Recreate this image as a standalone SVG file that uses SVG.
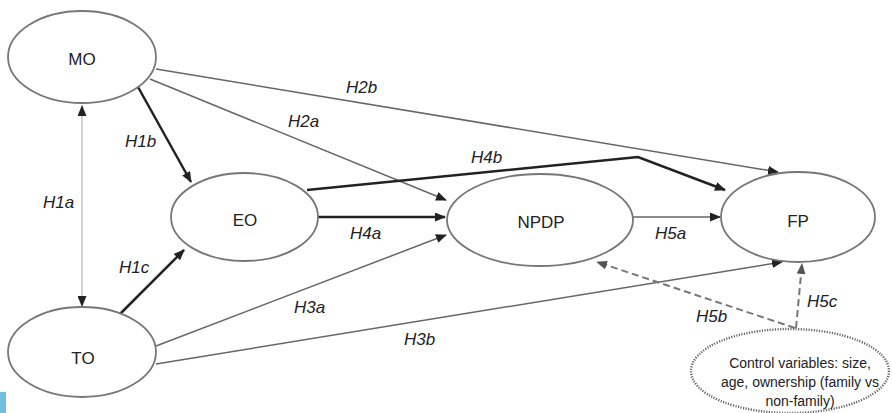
<svg xmlns="http://www.w3.org/2000/svg" width="892" height="413" viewBox="0 0 892 413">
<style>
.node ellipse{fill:#fff;stroke:#777;stroke-width:1.8}
.node text{font-family:"Liberation Sans",Arial,sans-serif;font-size:17px;fill:#222;text-anchor:middle}
.ctrl ellipse{fill:#fff;stroke:#666;stroke-width:2.4;stroke-dasharray:1.2 1.4}
.ctrl text{font-family:"Liberation Sans",Arial,sans-serif;font-size:14px;fill:#222;text-anchor:middle}
.edge{fill:none;stroke:#666;stroke-width:1.5}
.thick{fill:none;stroke:#222;stroke-width:2.5}
.light{fill:none;stroke:#aaa;stroke-width:1}
.dash{fill:none;stroke:#777;stroke-width:2;stroke-dasharray:7 4}
.lbl{font-family:"Liberation Sans",Arial,sans-serif;font-size:17px;font-style:italic;fill:#222}
</style>
<defs>
<marker id="ah" markerUnits="userSpaceOnUse" markerWidth="11" markerHeight="9" refX="10" refY="4.5" orient="auto-start-reverse">
<path d="M0,0 L11,4.5 L0,9 z" fill="#222"/>
</marker>
<marker id="ahg" markerUnits="userSpaceOnUse" markerWidth="11" markerHeight="9" refX="10" refY="4.5" orient="auto">
<path d="M0,0 L11,4.5 L0,9 z" fill="#555"/>
</marker>
</defs>
<rect x="0" y="0" width="892" height="413" fill="#fff"/>
<rect x="0" y="392" width="6" height="21" fill="#6ec1dd"/>
<g id="connectors">
<line class="light" x1="82" y1="106" x2="82" y2="306" marker-start="url(#ah)" marker-end="url(#ah)"/>
<line class="thick" x1="138" y1="87" x2="191" y2="182" marker-end="url(#ah)"/>
<line class="thick" x1="119" y1="315" x2="184" y2="250" marker-end="url(#ah)"/>
<line class="edge" x1="150" y1="79" x2="446" y2="200" marker-end="url(#ah)"/>
<line class="edge" x1="156" y1="69" x2="778" y2="172" marker-end="url(#ah)"/>
<polyline class="thick" points="307,190 638,157 725,190" marker-end="url(#ah)"/>
<line class="thick" x1="318" y1="217" x2="445" y2="217" stroke-width="2" marker-end="url(#ah)"/>
<line class="edge" x1="156" y1="346" x2="446" y2="235" marker-end="url(#ah)"/>
<line class="edge" x1="156" y1="364" x2="782" y2="262" marker-end="url(#ah)"/>
<line class="edge" x1="632" y1="217" x2="720" y2="217" marker-end="url(#ah)"/>
<line class="dash" x1="795" y1="328" x2="597" y2="262" marker-end="url(#ahg)"/>
<line class="dash" x1="796" y1="328" x2="802" y2="264" marker-end="url(#ahg)"/>
<text class="lbl" x="346" y="93">H2b</text>
<text class="lbl" x="125" y="147">H1b</text>
<text class="lbl" x="288" y="127">H2a</text>
<text class="lbl" x="43" y="208">H1a</text>
<text class="lbl" x="119" y="273">H1c</text>
<text class="lbl" x="471" y="163">H4b</text>
<text class="lbl" x="350" y="239">H4a</text>
<text class="lbl" x="294" y="313">H3a</text>
<text class="lbl" x="404" y="345">H3b</text>
<text class="lbl" x="655" y="239">H5a</text>
<text class="lbl" x="696" y="322">H5b</text>
<text class="lbl" x="807" y="307">H5c</text>
</g>
<g id="MO" class="node"><ellipse cx="82" cy="57" rx="74" ry="46"/><text x="82" y="65">MO</text></g>
<g id="TO" class="node"><ellipse cx="82" cy="352" rx="74" ry="45"/><text x="83" y="364">TO</text></g>
<g id="EO" class="node"><ellipse cx="244.5" cy="217" rx="73.5" ry="44"/><text x="245" y="226">EO</text></g>
<g id="NPDP" class="node"><ellipse cx="540" cy="220" rx="93" ry="46"/><text x="541" y="228">NPDP</text></g>
<g id="FP" class="node"><ellipse cx="798" cy="217" rx="77" ry="45"/><text x="798" y="227">FP</text></g>
<g id="Control" class="ctrl"><ellipse cx="790" cy="371" rx="99" ry="42"/>
<text x="800" y="368">Control variables: size,</text>
<text x="800" y="387">age, ownership (family vs</text>
<text x="800" y="406">non-family)</text></g>
</svg>
